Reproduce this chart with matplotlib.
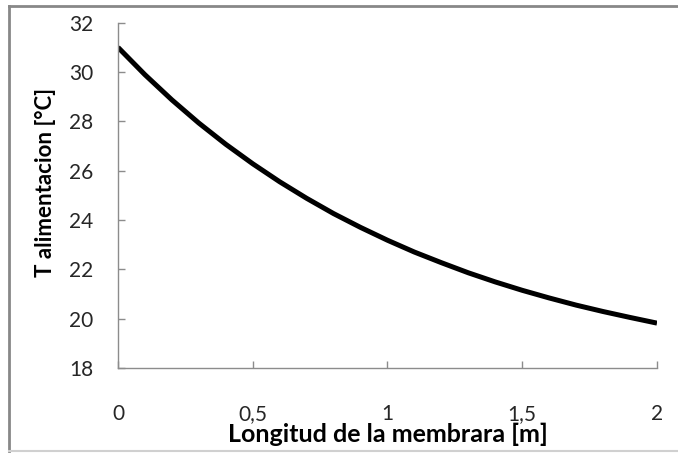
import matplotlib
matplotlib.use("Agg")
import matplotlib.pyplot as plt
from matplotlib.lines import Line2D

# values
longitud = [0.0, 0.1, 0.2, 0.3, 0.4, 0.5, 0.6, 0.7, 0.8, 0.9, 1.0,
            1.1, 1.2, 1.3, 1.4, 1.5, 1.6, 1.7, 1.8, 1.9, 2.0]
t_alim = [31.00, 29.89, 28.87, 27.93, 27.07, 26.28, 25.55, 24.88, 24.26, 23.70, 23.18,
          22.70, 22.27, 21.86, 21.49, 21.15, 20.84, 20.55, 20.29, 20.05, 19.82]

x_ticks = [0, 0.5, 1, 1.5, 2]
x_ticklabels = ["0", "0,5", "1", "1,5", "2"]
y_ticks = [18, 20, 22, 24, 26, 28, 30, 32]

plt.rcParams['font.family'] = ['Lato', 'DejaVu Sans']

fig = plt.figure(figsize=(6.78, 4.53), dpi=100)
ax = fig.add_axes([0.174, 0.1876, 0.795, 0.7624])

ax.plot(longitud, t_alim, color='black', lw=3.6, solid_capstyle='butt')

ax.set_xlim(0, 2)
ax.set_ylim(18, 32)
ax.set_xticks(x_ticks)
ax.set_xticklabels(x_ticklabels)
ax.set_yticks(y_ticks)

grey = '#8c8c8c'
for side in ['top', 'right']:
    ax.spines[side].set_visible(False)
for side in ['left', 'bottom']:
    ax.spines[side].set_color(grey)
    ax.spines[side].set_linewidth(1.0)

ax.tick_params(axis='both', direction='in', length=5, width=1.0, color=grey,
               labelsize=15, labelcolor='#262626')
ax.tick_params(axis='x', pad=26)
ax.tick_params(axis='y', pad=18)

ax.set_xlabel("Longitud de la membrara [m]", fontsize=18, fontweight='bold', labelpad=-1)
ax.set_ylabel("T alimentacion [°C]", fontsize=16, fontweight='bold', labelpad=9)
ax.yaxis.label.set_y(0.537)  # label sits a bit above the axis centre

# chart area border (Excel style), right side cut off
W, H = 678.0, 453.0
bx0, by0, by1 = 9 / W, 1 - 6 / H, 1 - 451 / H
fig.add_artist(Line2D([bx0, 1.0], [by0, by0], color='#888888', lw=2.0, transform=fig.transFigure))
fig.add_artist(Line2D([bx0, bx0], [by0, by1], color='#888888', lw=2.0, transform=fig.transFigure))
fig.add_artist(Line2D([bx0, 1.0], [by1, by1], color='#d0d0d0', lw=1.5, transform=fig.transFigure))

fig.savefig("out.png", dpi=100)
